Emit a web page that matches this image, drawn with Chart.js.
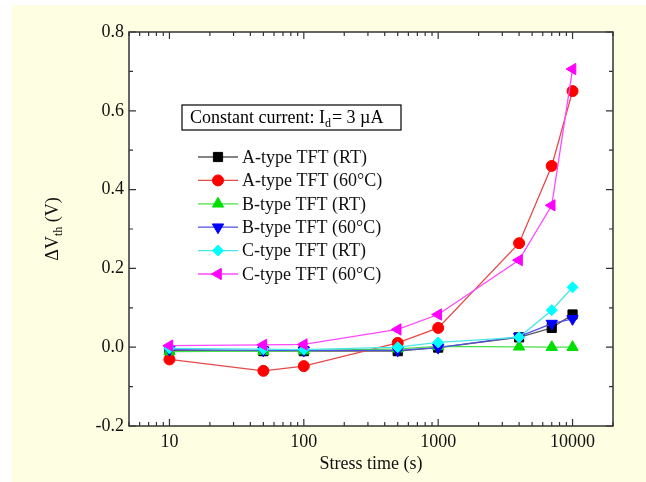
<!DOCTYPE html>
<html>
<head>
<meta charset="utf-8">
<script src="https://cdn.jsdelivr.net/npm/chart.js@4.4.0/dist/chart.umd.min.js"></script>
<style>
  body { margin: 0; background: #fff; }
  canvas { display: block; }
</style>
</head>
<body>
<canvas id="vthChart" width="646" height="482"></canvas>
<script>
// stress times (s)
const stressTime = [10, 50, 100, 500, 1000, 4000, 7000, 10000];

// delta Vth (V) per device
const aTypeRT = [-0.008, -0.01, -0.01, -0.01, -0.001, 0.025, 0.049, 0.083];
const aType60 = [-0.031, -0.06, -0.048, 0.011, 0.049, 0.264, 0.46, 0.65];
const bTypeRT = [-0.011, -0.01, -0.009, -0.004, 0.002, 0.001, 0.0, 0.0];
const bType60 = [-0.006, -0.008, -0.008, -0.008, -0.001, 0.027, 0.06, 0.072];
const cTypeRT = [-0.003, -0.005, -0.006, 0.0, 0.012, 0.025, 0.094, 0.152];
const cType60 = [0.004, 0.006, 0.007, 0.045, 0.083, 0.221, 0.36, 0.706];

const seriesNames = ['A-type TFT (RT)', 'A-type TFT (60°C)', 'B-type TFT (RT)',
                     'B-type TFT (60°C)', 'C-type TFT (RT)', 'C-type TFT (60°C)'];
const seriesValues = [aTypeRT, aType60, bTypeRT, bType60, cTypeRT, cType60];
const lineColors = ['#5a5a5a', '#e84848', '#48e048', '#5050e0', '#48e8e8', '#ff48ff'];
const markColors = ['#000000', '#ff0000', '#00e000', '#0000ff', '#00ffff', '#ff00ff'];
const markStyles = ['rect', 'circle', 'triangle', 'triangle', 'rectRot', 'triangle'];
const markRotation = [0, 0, 0, 180, 0, -90];
const markRadius = [6.5, 5.5, 6.5, 6.5, 5.5, 6.5];

const xMajor = [10, 100, 1000, 10000];
const yMajor = [-0.2, 0, 0.2, 0.4, 0.6, 0.8];
const yMinor = [-0.1, 0.1, 0.3, 0.5, 0.7];

const serif = '"Liberation Serif", "Times New Roman", serif';
const cream = '#fefee2';

const datasets = seriesNames.map((name, i) => ({
  label: name,
  data: stressTime.map((t, k) => ({ x: t, y: seriesValues[i][k] })),
  borderColor: lineColors[i],
  borderWidth: 1.3,
  pointStyle: markStyles[i],
  pointRotation: markRotation[i],
  pointRadius: markRadius[i],
  pointBackgroundColor: markColors[i],
  pointBorderColor: markColors[i],
  pointBorderWidth: 1,
  fill: false,
  tension: 0,
  order: seriesNames.length - i
}));

// backgrounds
const backdrop = {
  id: 'backdrop',
  beforeDraw(chart) {
    const c = chart.ctx, a = chart.chartArea;
    c.save();
    c.fillStyle = '#ffffff';
    c.fillRect(0, 0, chart.width, chart.height);
    c.fillStyle = cream;
    c.fillRect(12, 5, chart.width - 12, chart.height - 5);
    c.fillStyle = '#ffffff';
    c.fillRect(a.left, a.top, a.right - a.left, a.bottom - a.top);
    c.restore();
  }
};

// frame, inward ticks, legend, note, y title
const decorations = {
  id: 'decorations',
  afterDraw(chart) {
    const c = chart.ctx, a = chart.chartArea;
    const xs = chart.scales.x, ys = chart.scales.y;
    c.save();
    c.strokeStyle = '#333';
    c.lineWidth = 1.5;
    c.strokeRect(a.left, a.top, a.right - a.left, a.bottom - a.top);

    c.lineWidth = 1.2;
    c.beginPath();
    // x ticks (top and bottom)
    for (let d = 0; d <= 4; d++) {
      for (let k = 1; k <= 9; k++) {
        const v = k * Math.pow(10, d);
        if (v < xs.min || v > xs.max) continue;
        const px = xs.getPixelForValue(v);
        const len = k === 1 ? 7 : 4;
        c.moveTo(px, a.bottom); c.lineTo(px, a.bottom - len);
        c.moveTo(px, a.top); c.lineTo(px, a.top + len);
      }
    }
    // y ticks (left and right)
    yMajor.concat(yMinor).forEach(v => {
      const py = ys.getPixelForValue(v);
      const len = yMinor.includes(v) ? 4 : 7;
      c.moveTo(a.left, py); c.lineTo(a.left + len, py);
      c.moveTo(a.right, py); c.lineTo(a.right - len, py);
    });
    c.stroke();

    // note box
    c.fillStyle = '#000';
    c.strokeStyle = '#000';
    c.lineWidth = 1.2;
    c.strokeRect(182, 105, 219, 25);
    c.textBaseline = 'alphabetic';
    c.textAlign = 'left';
    let tx = 190;
    c.font = '18px ' + serif;
    c.fillText('Constant current: I', tx, 123);
    tx += c.measureText('Constant current: I').width;
    c.font = '12px ' + serif;
    c.fillText('d', tx, 127);
    tx += c.measureText('d').width + 1;
    c.font = '18px ' + serif;
    c.fillText('= 3 \u00b5A', tx, 123);

    // legend
    chart.data.datasets.forEach((ds, i) => {
      const y = 157 + i * 23.4;
      c.strokeStyle = ds.borderColor;
      c.lineWidth = 1.3;
      c.beginPath();
      c.moveTo(198, y); c.lineTo(238, y);
      c.stroke();
      c.fillStyle = ds.pointBackgroundColor;
      c.strokeStyle = ds.pointBorderColor;
      c.lineWidth = 1;
      Chart.helpers.drawPoint(c, {
        pointStyle: ds.pointStyle, rotation: ds.pointRotation,
        radius: ds.pointRadius, borderWidth: 1
      }, 218, y);
      c.fillStyle = '#111';
      c.font = '18px ' + serif;
      c.textBaseline = 'middle';
      c.fillText(ds.label, 242, y + 1);
    });

    // y axis title with subscript
    c.translate(52, 229);
    c.rotate(-Math.PI / 2);
    c.fillStyle = '#111';
    c.textBaseline = 'alphabetic';
    c.font = '18px ' + serif;
    const w1 = c.measureText('\u0394V').width;
    const w3 = c.measureText(' (V)').width;
    c.font = '12px ' + serif;
    const w2 = c.measureText('th').width;
    let sx = -(w1 + w2 + w3) / 2;
    c.font = '18px ' + serif;
    c.fillText('\u0394V', sx, 6);
    c.font = '12px ' + serif;
    c.fillText('th', sx + w1, 10);
    c.font = '18px ' + serif;
    c.fillText(' (V)', sx + w1 + w2, 6);
    c.restore();
  }
};

new Chart(document.getElementById('vthChart'), {
  type: 'line',
  data: { datasets: datasets },
  plugins: [backdrop, decorations],
  options: {
    responsive: false,
    animation: false,
    devicePixelRatio: 1,
    layout: { padding: { left: 0, top: 32, right: 33, bottom: 0 } },
    plugins: { legend: { display: false }, tooltip: { enabled: false } },
    scales: {
      x: {
        type: 'logarithmic',
        min: 5,
        max: 20000,
        grid: { display: false, drawTicks: false },
        border: { display: false },
        afterBuildTicks: s => { s.ticks = xMajor.map(v => ({ value: v })); },
        afterFit: s => { s.height = 56; },
        ticks: {
          autoSkip: false,
          maxRotation: 0,
          padding: 5,
          color: '#111',
          font: { family: serif, size: 18 },
          callback: v => String(v)
        },
        title: {
          display: true,
          text: 'Stress time (s)',
          color: '#111',
          font: { family: serif, size: 18 },
          padding: { top: 0, bottom: 7 }
        }
      },
      y: {
        min: -0.2,
        max: 0.8,
        grid: { display: false, drawTicks: false },
        border: { display: false },
        afterBuildTicks: s => { s.ticks = yMajor.map(v => ({ value: v })); },
        afterFit: s => { s.width = 129; },
        ticks: {
          padding: 5,
          color: '#111',
          font: { family: serif, size: 18 },
          callback: v => (Math.abs(v) < 1e-9 ? '0.0' : v.toFixed(1))
        }
      }
    }
  }
});
</script>
</body>
</html>
